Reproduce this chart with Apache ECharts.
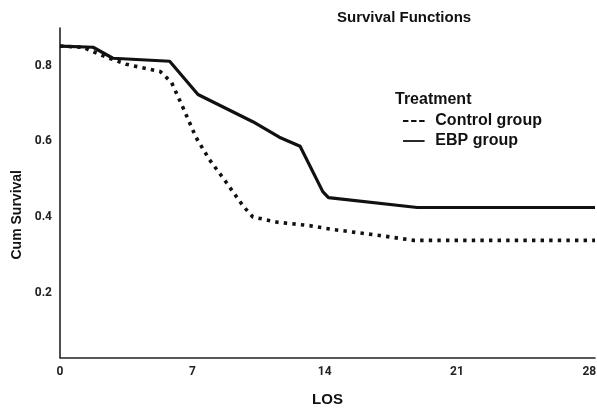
<!DOCTYPE html>
<html>
<head>
<meta charset="utf-8">
<script src="https://cdn.jsdelivr.net/npm/echarts@6/dist/echarts.min.js"></script>
<style>
  html, body { margin: 0; padding: 0; background: #fff; }
  #chart { width: 597px; height: 410px; }
</style>
</head>
<body>
<div id="chart"></div>
<script>
// ---- Data ----
const losTicks = [0, 7, 14, 21, 28];
const survTicks = [0.2, 0.4, 0.6, 0.8];

const controlLOS  = [0, 1.2, 2.5, 3.5, 5.3, 5.9, 6.5, 7.2, 7.9, 8.8, 9.7, 10.2, 11.5, 13.2, 14.4, 16.9, 18.7, 28.3];
const controlSurv = [0.852, 0.849, 0.822, 0.804, 0.785, 0.756, 0.69, 0.61, 0.552, 0.491, 0.428, 0.400, 0.386, 0.377, 0.367, 0.351, 0.338, 0.338];

const ebpLOS  = [0, 1.75, 2.8, 5.8, 7.3, 10.2, 11.6, 12.7, 13.9, 14.2, 18.9, 28.3];
const ebpSurv = [0.852, 0.849, 0.820, 0.812, 0.724, 0.652, 0.611, 0.587, 0.467, 0.451, 0.425, 0.425];

const seriesNames = ['Control group', 'EBP group'];

function pairs(xs, ys) { return xs.map((x, i) => [x, ys[i]]); }

const chart = echarts.init(document.getElementById('chart'));
const ink = '#111';
const labelFont = 'Roboto';
const textFont = '"Liberation Sans", Arial, sans-serif';

const dashIcon = 'path://M0,0h6v2h-6zM9,0h6v2h-6zM18,0h6v2h-6z';
const solidIcon = 'path://M0,0h24v2h-24z';

chart.setOption({
  animation: false,
  backgroundColor: '#ffffff',
  color: [ink, ink],
  title: [
    { text: 'Survival Functions', left: 332, top: 5,
      textStyle: { fontFamily: textFont, fontSize: 15, fontWeight: 'bold', color: ink } },
    { text: 'Treatment', left: 390, top: 87,
      textStyle: { fontFamily: textFont, fontSize: 16, fontWeight: 'bold', color: ink } }
  ],
  legend: {
    orient: 'vertical',
    left: 398,
    top: 108,
    itemWidth: 23,
    itemHeight: 1.8,
    itemGap: 4,
    itemStyle: { color: ink, borderWidth: 0 },
    textStyle: { fontFamily: textFont, fontSize: 16, fontWeight: 'bold', color: ink, padding: [0, 0, 0, 5], lineHeight: 16 },
    data: [
      { name: seriesNames[0], icon: dashIcon },
      { name: seriesNames[1], icon: solidIcon }
    ]
  },
  grid: { left: 60, right: 2, top: 28, bottom: 52.5, containLabel: false, outerBoundsMode: 'none' },
  xAxis: {
    type: 'value',
    min: 0, max: 28.3, interval: 7,
    name: 'LOS', nameLocation: 'middle', nameGap: 35,
    nameTextStyle: { fontFamily: textFont, fontSize: 15, fontWeight: 'bold', color: ink },
    axisLine: { lineStyle: { color: '#222', width: 1.6 } },
    axisTick: { show: false },
    splitLine: { show: false },
    axisLabel: {
      margin: 8, fontFamily: labelFont, fontSize: 12, fontWeight: 'bold', color: '#222',
      formatter: v => losTicks.some(t => Math.abs(t - v) < 1e-6) ? String(v) : ''
    }
  },
  yAxis: {
    type: 'value',
    min: 0.028, max: 0.9, splitNumber: 4,
    name: 'Cum Survival', nameLocation: 'middle', nameGap: 32,
    nameTextStyle: { fontFamily: textFont, fontSize: 14, fontWeight: 'bold', color: ink, padding: [0, 44, 0, 0] },
    axisLine: { show: true, lineStyle: { color: '#222', width: 1.6 } },
    axisTick: { show: false },
    splitLine: { show: false },
    axisLabel: {
      margin: 8, fontFamily: labelFont, fontSize: 12, fontWeight: 'bold', color: '#222',
      formatter: v => {
        const t = survTicks.find(s => Math.abs(s - v) < 1e-6);
        return t === undefined ? '' : t.toFixed(1);
      }
    }
  },
  series: [
    {
      name: seriesNames[0], type: 'line', symbol: 'none',
      data: pairs(controlLOS, controlSurv),
      itemStyle: { color: ink },
      lineStyle: { color: ink, width: 3.6, type: [3.4, 5.2], cap: 'butt' },
      z: 2
    },
    {
      name: seriesNames[1], type: 'line', symbol: 'none',
      data: pairs(ebpLOS, ebpSurv),
      itemStyle: { color: ink },
      lineStyle: { color: ink, width: 3.2, type: 'solid', join: 'round' },
      z: 3
    }
  ]
});
</script>
</body>
</html>
